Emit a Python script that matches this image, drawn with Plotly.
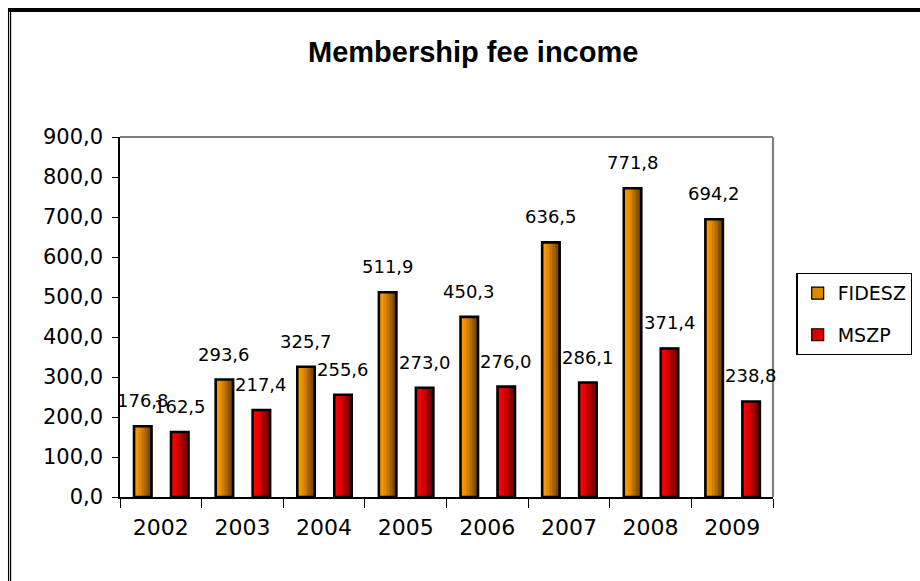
import plotly.graph_objects as go

# ---------------- data ----------------
years = ["2002", "2003", "2004", "2005", "2006", "2007", "2008", "2009"]
fidesz = [176.8, 293.6, 325.7, 511.9, 450.3, 636.5, 771.8, 694.2]
mszp = [162.5, 217.4, 255.6, 273.0, 276.0, 286.1, 371.4, 238.8]
series_names = ["FIDESZ", "MSZP"]
y_ticks = [0, 100, 200, 300, 400, 500, 600, 700, 800, 900]

# ---------------- style ----------------
W, H = 920, 581
PL, PR, PT, PB = 120, 773.5, 137, 497          # plot area in pixels
FONT = "DejaVu Sans"
BAR_W = 0.214                                   # bar width in category units
OFFSETS = [-0.328, 0.125]                       # left edge of each series' bar
GRAD = [
    [(255, 162, 0), (246, 150, 0), (222, 133, 0), (185, 110, 0), (140, 84, 0), (100, 60, 0)],
    [(255, 10, 10), (246, 0, 0), (220, 0, 0), (180, 0, 0), (140, 0, 0), (105, 0, 0)],
]
MID = ["#d98a00", "#d40000"]
N_STRIPS = 12


def lerp_color(stops, t):
    n = len(stops) - 1
    pos = t * n
    i = min(int(pos), n - 1)
    f = pos - i
    c = [round(stops[i][k] + (stops[i + 1][k] - stops[i][k]) * f) for k in range(3)]
    return f"rgb({c[0]},{c[1]},{c[2]})"


fig = go.Figure()
series = [fidesz, mszp]

for s, vals in enumerate(series):
    fig.add_trace(go.Bar(
        x=years, y=vals, name=series_names[s], width=BAR_W, offset=OFFSETS[s],
        marker=dict(color=MID[s], line=dict(color="black", width=1.2)),
        legendgroup=series_names[s], showlegend=True, hoverinfo="skip",
    ))
    sw = BAR_W / N_STRIPS
    for i in range(N_STRIPS):
        t = (i + 0.5) / N_STRIPS
        fig.add_trace(go.Bar(
            x=years, y=vals, width=sw * 1.05, offset=OFFSETS[s] + i * sw,
            marker=dict(color=lerp_color(GRAD[s], t), line=dict(width=0)),
            showlegend=False, hoverinfo="skip", legendgroup=series_names[s],
        ))
    fig.add_trace(go.Bar(
        x=years, y=vals, width=BAR_W, offset=OFFSETS[s],
        marker=dict(color="rgba(0,0,0,0)", line=dict(color="black", width=2.6)),
        showlegend=False, hoverinfo="skip", legendgroup=series_names[s],
    ))

# data labels (annotation x given as category index)
cat_px = (PR - PL) / len(years)
annotations = []
for s, vals in enumerate(series):
    center_shift = (OFFSETS[s] + BAR_W / 2) * cat_px
    for idx, v in enumerate(vals):
        annotations.append(dict(
            x=idx, y=v, xref="x", yref="y", text=f"{v:.1f}".replace(".", ","),
            showarrow=False, xshift=center_shift, yshift=13, yanchor="bottom",
            font=dict(family=FONT, size=18, color="black"),
        ))


def px_x(p):
    return (p - PL) / (PR - PL)


def px_y(p):
    return (PB - p) / (PB - PT)


annotations.append(dict(
    x=px_x(473), y=px_y(52), xref="paper", yref="paper",
    text="<b>Membership fee income</b>", showarrow=False,
    xanchor="center", yanchor="middle",
    font=dict(family="Liberation Sans", size=29, color="black"),
))

shapes = [
    dict(type="line", xref="paper", yref="paper", x0=0, x1=1, y0=1, y1=1,
         line=dict(color="#808080", width=2.2)),
    dict(type="line", xref="paper", yref="paper", x0=1, x1=1, y0=0, y1=1,
         line=dict(color="#808080", width=2.2)),
    dict(type="line", xref="paper", yref="paper", x0=px_x(8), x1=px_x(921), y0=px_y(10), y1=px_y(10),
         line=dict(color="black", width=4)),
    dict(type="line", xref="paper", yref="paper", x0=px_x(8.5), x1=px_x(8.5), y0=px_y(8), y1=px_y(582),
         line=dict(color="black", width=1.2)),
    dict(type="line", xref="paper", yref="paper", x0=px_x(10.5), x1=px_x(10.5), y0=px_y(8), y1=px_y(582),
         line=dict(color="black", width=1.2)),
]

fig.update_layout(
    width=W, height=H,
    margin=dict(l=PL, r=W - PR, t=PT, b=H - PB, autoexpand=False),
    paper_bgcolor="white", plot_bgcolor="white",
    barmode="overlay",
    separators=", ",
    showlegend=True,
    legend=dict(
        x=px_x(797), y=px_y(273), xanchor="left", yanchor="top",
        bordercolor="black", borderwidth=1.2, bgcolor="white",
        font=dict(family=FONT, size=19, color="black"),
        traceorder="grouped", tracegroupgap=14,
        itemwidth=30,
    ),
    xaxis=dict(
        type="category", categoryorder="array", categoryarray=years,
        range=[-0.5, len(years) - 0.5], autorange=False,
        showgrid=False, showline=True, linecolor="black", linewidth=1.5,
        ticks="outside", tickson="boundaries", ticklen=9, tickcolor="black", tickwidth=1.2,
        tickfont=dict(family=FONT, size=22, color="black"), tickangle=0, fixedrange=True,
        ticklabelstandoff=10,
    ),
    yaxis=dict(
        range=[0, 900], tickvals=y_ticks, tickformat=".1f", showgrid=False,
        showline=True, linecolor="black", linewidth=1.5, zeroline=False,
        ticks="outside", ticklen=6, tickcolor="black", tickwidth=1.2,
        tickfont=dict(family=FONT, size=21, color="black"), ticklabelstandoff=5,
    ),
    annotations=annotations,
    shapes=shapes,
)

fig.write_html("out.html")
